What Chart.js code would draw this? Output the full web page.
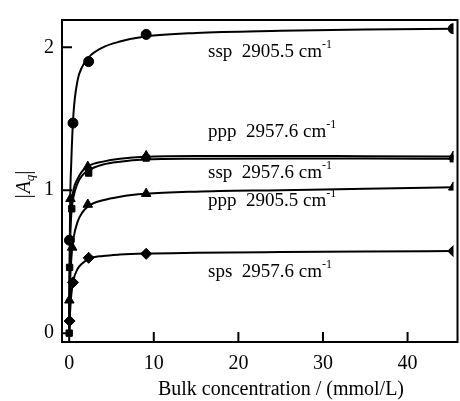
<!DOCTYPE html>
<html>
<head>
<meta charset="utf-8">
<script src="https://cdn.jsdelivr.net/npm/chart.js@4.4.0/dist/chart.umd.min.js"></script>
<style>
  html, body { margin: 0; padding: 0; background: #fff; }
  #wrap { width: 460px; height: 401px; }
</style>
</head>
<body>
<div id="wrap"><canvas id="chart" width="460" height="401"></canvas></div>
<script>
// --- data ---
const xTicks = [0, 10, 20, 30, 40];
const yTicks = [0, 1, 2];

// fitted curves, sampled at these concentrations
const curveX = [0, 0.1, 0.25, 0.5, 1, 1.5, 2.3, 4, 6, 9, 15, 25, 35, 45.4];
const ssp2905Curve = [0, 0.85, 1.2, 1.53, 1.77, 1.86, 1.93, 2.0, 2.04, 2.075, 2.1, 2.115, 2.125, 2.13];
const ppp2957Curve = [0, 0.66, 0.88, 1.0, 1.08, 1.13, 1.17, 1.2, 1.22, 1.235, 1.24, 1.24, 1.238, 1.236];
const ssp2957Curve = [0, 0.6, 0.83, 0.95, 1.05, 1.1, 1.14, 1.18, 1.2, 1.215, 1.22, 1.222, 1.222, 1.22];
const ppp2905Curve = [0, 0.33, 0.52, 0.66, 0.78, 0.84, 0.89, 0.93, 0.955, 0.975, 0.99, 1.0, 1.01, 1.02];
const sps2957Curve = [0, 0.14, 0.27, 0.37, 0.45, 0.485, 0.52, 0.54, 0.55, 0.557, 0.562, 0.567, 0.571, 0.574];

// measured points
const ssp2905X = [0.03, 0.45, 2.3, 9.1, 45.4];
const ssp2905Y = [0.65, 1.47, 1.9, 2.09, 2.13];
const ppp2957X = [0.15, 2.2, 9.1, 45.4];
const ppp2957Y = [0.94, 1.165, 1.24, 1.236];
const ssp2957X = [0, 0.05, 0.3, 2.3, 9.1, 45.4];
const ssp2957Y = [0, 0.46, 0.87, 1.12, 1.225, 1.22];
const ppp2905X = [0.02, 0.35, 2.2, 9.1, 45.4];
const ppp2905Y = [0.23, 0.6, 0.9, 0.976, 1.02];
const sps2957X = [0.05, 0.45, 2.3, 9.1, 45.4];
const sps2957Y = [0.085, 0.355, 0.527, 0.555, 0.574];

const seriesLabels = [
  ['ssp', '2905.5'],
  ['ppp', '2957.6'],
  ['ssp', '2957.6'],
  ['ppp', '2905.5'],
  ['sps', '2957.6'],
];
const xTitle = 'Bulk concentration / (mmol/L)';

const FONT = '"Liberation Serif", "Times New Roman", serif';

const pts = (xs, ys) => xs.map((x, i) => ({ x, y: ys[i] }));

function curve(ys) {
  return {
    type: 'line',
    data: pts(curveX, ys),
    borderColor: '#000',
    borderWidth: 2,
    pointRadius: 0,
    cubicInterpolationMode: 'monotone',
    fill: false,
  };
}
function marks(xs, ys, style, r) {
  return {
    type: 'scatter',
    data: pts(xs, ys),
    pointStyle: style,
    pointRadius: r,
    backgroundColor: '#000',
    borderColor: '#000',
    borderWidth: 1,
    showLine: false,
  };
}

// frame, inward ticks, labels
const decor = {
  id: 'decor',
  afterDraw(chart) {
    const { ctx, chartArea: a, scales: { x, y } } = chart;
    ctx.save();
    ctx.strokeStyle = '#000';
    ctx.lineWidth = 2;
    ctx.strokeRect(a.left, a.top, a.right - a.left + 4, a.bottom - a.top);
    ctx.beginPath();
    xTicks.forEach(v => {
      const px = x.getPixelForValue(v);
      ctx.moveTo(px, a.bottom); ctx.lineTo(px, a.bottom - 10);
    });
    yTicks.forEach(v => {
      const py = y.getPixelForValue(v);
      ctx.moveTo(a.left, py); ctx.lineTo(a.left + 10, py);
    });
    ctx.stroke();

    ctx.fillStyle = '#000';
    ctx.textBaseline = 'alphabetic';
    // series labels
    const pos = [[208, 57], [208, 137], [208, 178], [208, 206], [208, 277]];
    seriesLabels.forEach((l, i) => {
      let [px, py] = pos[i];
      ctx.font = '19px ' + FONT;
      ctx.textAlign = 'left';
      const s = l[0] + '  ' + l[1] + ' cm';
      ctx.fillText(s, px, py);
      px += ctx.measureText(s).width;
      ctx.font = '12px ' + FONT;
      ctx.fillText('-1', px, py - 9);
    });

    // x title
    ctx.font = '20px ' + FONT;
    ctx.textAlign = 'center';
    ctx.fillText(xTitle, 281, 395);

    // y title |Aq|
    ctx.translate(30, 183);
    ctx.rotate(-Math.PI / 2);
    ctx.textAlign = 'left';
    ctx.font = 'italic 20px ' + FONT;
    const wA = ctx.measureText('A').width;
    ctx.font = 'italic 13px ' + FONT;
    const wq = ctx.measureText('q').width;
    const tot = 4 + wA + wq + 4;
    let cx = -tot / 2;
    ctx.lineWidth = 1;
    ctx.beginPath();
    ctx.moveTo(cx, -15); ctx.lineTo(cx, 5);
    ctx.stroke();
    cx += 3;
    ctx.font = 'italic 20px ' + FONT;
    ctx.fillText('A', cx, 0);
    cx += wA;
    ctx.font = 'italic 13px ' + FONT;
    ctx.fillText('q', cx, 4);
    cx += wq + 2;
    ctx.beginPath();
    ctx.moveTo(cx, -15); ctx.lineTo(cx, 5);
    ctx.stroke();
    ctx.restore();
  }
};

new Chart(document.getElementById('chart'), {
  data: {
    datasets: [
      curve(ssp2905Curve), curve(ppp2957Curve), curve(ssp2957Curve),
      curve(ppp2905Curve), curve(sps2957Curve),
      marks(ssp2905X, ssp2905Y, 'circle', 5),
      marks(ppp2957X, ppp2957Y, 'triangle', 5.5),
      marks(ssp2957X, ssp2957Y, 'rect', 4.5),
      marks(ppp2905X, ppp2905Y, 'triangle', 5.5),
      marks(sps2957X, sps2957Y, 'rectRot', 5.5),
    ]
  },
  options: {
    responsive: false,
    animation: false,
    layout: { padding: { top: 16, left: 0, right: 0, bottom: 0 } },
    plugins: { legend: { display: false }, tooltip: { enabled: false } },
    scales: {
      x: {
        type: 'linear',
        min: -0.85, max: 45.43,
        grid: { display: false, drawTicks: false },
        border: { display: false },
        afterBuildTicks: s => { s.ticks = xTicks.map(v => ({ value: v })); },
        afterFit: s => { s.height = 59; },
        ticks: { color: '#000', font: { family: FONT, size: 20 }, padding: 10, maxRotation: 0 },
      },
      y: {
        type: 'linear',
        min: -0.062, max: 2.191,
        grid: { display: false, drawTicks: false },
        border: { display: false },
        afterBuildTicks: s => { s.ticks = yTicks.map(v => ({ value: v })); },
        afterFit: s => { s.width = 62; },
        ticks: { color: '#000', font: { family: FONT, size: 20 }, padding: 8 },
      }
    }
  },
  plugins: [decor]
});
</script>
</body>
</html>
